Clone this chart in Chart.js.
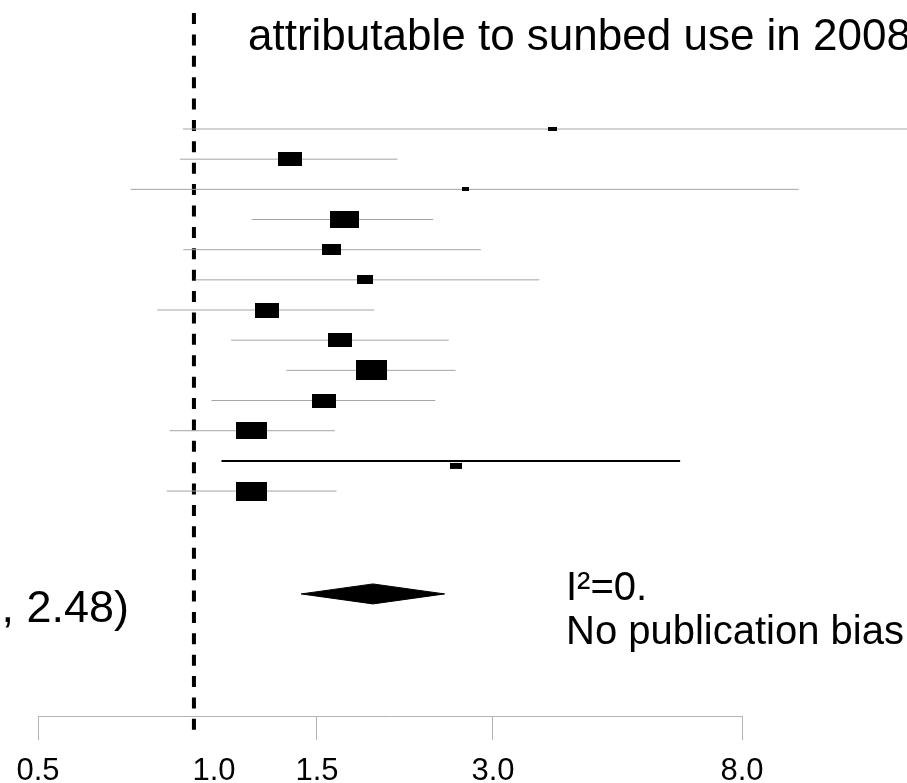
<!DOCTYPE html>
<html>
<head>
<meta charset="utf-8">
<script src="https://cdn.jsdelivr.net/npm/chart.js@4/dist/chart.umd.min.js"></script>
<style>
  html, body { margin: 0; padding: 0; background: #fff; }
  #wrap { width: 907px; height: 783px; overflow: hidden; }
</style>
</head>
<body>
<div id="wrap"><canvas id="c" width="907" height="783"></canvas></div>
<script>
// ---- data (relative risks, log scale) ----
const rows      = [1, 2, 3, 4, 5, 6, 7, 8, 9, 10, 11, 12, 13];
const estimates = [3.79, 1.35, 2.69, 1.67, 1.59, 1.81, 1.23, 1.64, 1.86, 1.54, 1.16, 2.59, 1.16];
const lowerCI   = [0.885, 0.875, 0.72, 1.16, 0.886, 0.93, 0.80, 1.07, 1.33, 0.99, 0.84, 1.03, 0.83];
const upperCI   = [16.0, 2.06, 10.0, 2.37, 2.86, 3.60, 1.88, 2.52, 2.59, 2.39, 1.61, 6.27, 1.62];
const summaryRow = [16.41];
const summary    = [1.87];
const summaryLo  = [1.41];
const summaryHi  = [2.48];
const refLineValue = [0.924];
const tickValues = [0.5, 1, 1.5, 3, 8];
const tickLabels = ['0.5', '1.0', '1.5', '3.0', '8.0'];
const titleText = 'attributable to sunbed use in 2008';
const ciText = ', 2.48)';
const noteLines = ['I\u00B2=0.', 'No publication bias'];

// ---- styling ----
const boxW = [9, 24, 7, 29, 19, 16, 24, 24, 31, 24, 31, 12, 31];
const boxH = [4, 14, 4, 17, 11, 9, 15, 14, 20, 14, 17, 6, 19];
const boxDrop = [0, 0, 0, 0, 0, 0, 0, 0, 0, 0, 0, 7, 0];
const heavyRow = 12;
const FONT = '"Liberation Sans", Arial, Helvetica, sans-serif';

function boxCanvas(w, h, drop) {
  const c = document.createElement('canvas');
  const H = drop ? 2 * (drop + h / 2) : h;
  c.width = w; c.height = Math.ceil(H);
  const g = c.getContext('2d');
  g.fillStyle = '#000';
  if (drop) g.fillRect(0, c.height / 2 + drop - h / 2 - 2, w, h);
  else g.fillRect(0, 0, w, h);
  return c;
}

const datasets = [];
rows.forEach((r, i) => {
  const heavy = r === heavyRow;
  datasets.push({
    data: [{x: lowerCI[i], y: r}, {x: upperCI[i], y: r}],
    showLine: true,
    borderColor: heavy ? '#000' : '#a4a4a4',
    borderWidth: heavy ? 2 : 1,
    pointRadius: 0,
    clip: false,
    order: 2
  });
});
datasets.push({
  data: rows.map((r, i) => ({x: estimates[i], y: r})),
  showLine: false,
  pointStyle: rows.map((r, i) => boxCanvas(boxW[i], boxH[i], boxDrop[i])),
  pointRadius: 5,
  clip: false,
  order: 0
});
const dh = 0.331;
datasets.push({
  data: [{x: summaryLo[0], y: summaryRow[0]}, {x: summary[0], y: summaryRow[0] - dh}, {x: summaryHi[0], y: summaryRow[0]}],
  showLine: true, borderColor: '#000', borderWidth: 1, backgroundColor: '#000',
  fill: {value: summaryRow[0]}, pointRadius: 0, tension: 0, order: 1, clip: false
});
datasets.push({
  data: [{x: summaryLo[0], y: summaryRow[0]}, {x: summary[0], y: summaryRow[0] + dh}, {x: summaryHi[0], y: summaryRow[0]}],
  showLine: true, borderColor: '#000', borderWidth: 1, backgroundColor: '#000',
  fill: {value: summaryRow[0]}, pointRadius: 0, tension: 0, order: 1, clip: false
});

const decor = {
  id: 'decor',
  beforeDatasetsDraw(chart) {
    const ctx = chart.ctx, xs = chart.scales.x, a = chart.chartArea;
    const px = xs.getPixelForValue(refLineValue[0]);
    ctx.save();
    ctx.strokeStyle = '#000';
    ctx.lineWidth = 4;
    ctx.setLineDash([11, 10.39]);
    ctx.beginPath();
    ctx.moveTo(px, a.top + 13);
    ctx.lineTo(px, a.bottom + 15);
    ctx.stroke();
    ctx.restore();
  },
  afterDraw(chart) {
    const ctx = chart.ctx;
    ctx.save();
    ctx.fillStyle = '#000';
    ctx.textBaseline = 'alphabetic';
    ctx.font = '44px ' + FONT;
    ctx.textAlign = 'left';
    ctx.fillText(titleText, 248, 50);
    ctx.font = '45px ' + FONT;
    ctx.textAlign = 'right';
    ctx.fillText(ciText, 129, 622);
    ctx.font = '40px ' + FONT;
    ctx.textAlign = 'left';
    ctx.fillText(noteLines[0], 566, 600);
    ctx.fillText(noteLines[1], 566, 644);
    ctx.restore();
  }
};

new Chart(document.getElementById('c'), {
  type: 'scatter',
  data: { datasets },
  options: {
    responsive: false,
    animation: false,
    devicePixelRatio: 1,
    layout: { autoPadding: false, padding: { left: 38, right: 165, top: 0, bottom: 0 } },
    plugins: { legend: { display: false }, tooltip: { enabled: false } },
    scales: {
      x: {
        type: 'logarithmic',
        position: 'bottom',
        min: 0.5, max: 8,
        afterBuildTicks: (axis) => { axis.ticks = tickValues.map(v => ({ value: v })); },
        afterFit: (scale) => { scale.height = 67; },
        grid: {
          drawOnChartArea: false, drawTicks: true, tickLength: 24, lineWidth: 1,
          color: (c) => (c.tick && c.tick.value === 1) ? 'rgba(0,0,0,0)' : '#b4b4b4'
        },
        border: { display: true, color: '#b4b4b4', width: 1 },
        ticks: {
          autoSkip: false, maxRotation: 0, minRotation: 0, padding: 13,
          color: '#000', font: { family: FONT, size: 31 },
          callback: (v, i) => tickLabels[i]
        }
      },
      y: { type: 'linear', reverse: true, min: -3.276, max: 20.456, display: false }
    }
  },
  plugins: [decor]
});
</script>
</body>
</html>
